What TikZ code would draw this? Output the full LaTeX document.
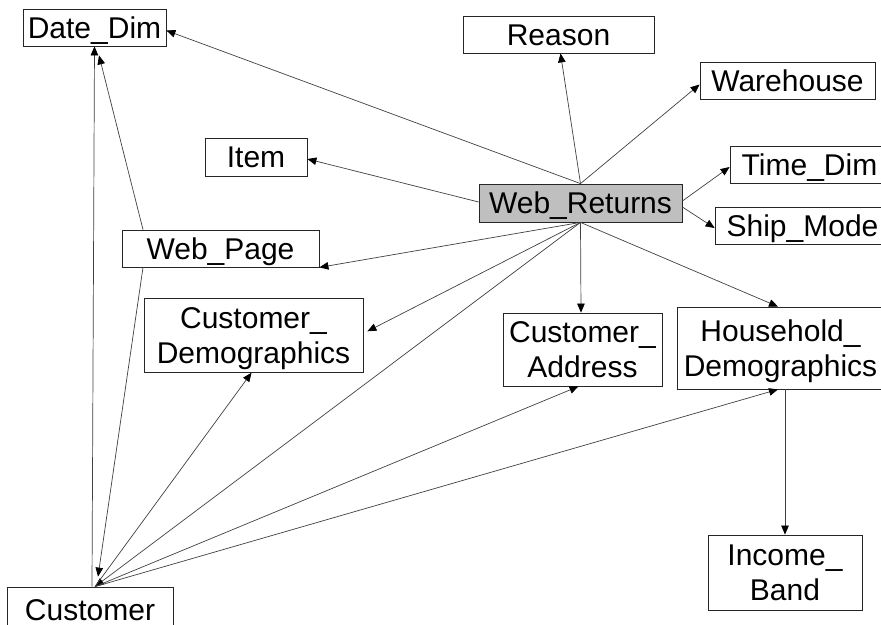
\documentclass[tikz,border=0pt]{standalone}
\usepackage{fontspec}
\setmainfont{Liberation Sans}
\usetikzlibrary{arrows.meta}
\begin{document}
\begin{tikzpicture}[x=1pt,y=-1pt,
  box/.style={draw=black!85, line width=0.8pt, inner sep=0pt, fill=white,
    font=\fontsize{30}{35}\selectfont, text height=21.4pt, text depth=0pt},
  box2/.style={box, text depth=35pt},
  link/.style={draw=black!75, line width=0.7pt, -{Triangle[length=9pt,width=7.5pt,color=black]}}
]
\useasboundingbox (0,0) rectangle (881,624);
\clip (0,0) rectangle (881,624);
% nodes
\node[box, minimum width=143pt, minimum height=37pt] (dd) at (94.5,27.5) {Date\_Dim};
\node[box, minimum width=191pt, minimum height=37pt] (reason) at (558.5,34.5) {Reason};
\node[box, minimum width=175pt, minimum height=37pt] (wh) at (787.5,80.5) {Warehouse};
\node[box, minimum width=102pt, minimum height=38pt] (item) at (256,157) {Item};
\node[box, fill=black!25, minimum width=203pt, minimum height=38pt] (wr) at (580.5,203) {Web\_Returns};
\node[box, minimum width=159pt, minimum height=37pt] (td) at (809.5,164.5) {Time\_Dim};
\node[box, minimum width=175pt, minimum height=37pt] (sm) at (802.5,225.5) {Ship\_Mode};
\node[box, minimum width=197pt, minimum height=37pt] (wp) at (220.5,248.5) {Web\_Page};
\node[box2, minimum width=219pt, minimum height=74pt] (cd) at (253.5,335.3) {\begin{tabular}[t]{@{}c@{}}Customer\_\\Demographics\end{tabular}};
\node[box2, minimum width=159pt, minimum height=73pt] (ca) at (582.5,349.5) {\begin{tabular}[t]{@{}c@{}}Customer\_\\Address\end{tabular}};
\node[box2, minimum width=207pt, minimum height=82pt] (hh) at (780.5,348) {\begin{tabular}[t]{@{}c@{}}Household\_\\Demographics\end{tabular}};
\node[box2, minimum width=154pt, minimum height=75pt] (ib) at (785,572.5) {\begin{tabular}[t]{@{}c@{}}Income\_\\Band\end{tabular}};
\node[box, minimum width=166pt, minimum height=45pt] (cust) at (90,609.5) {Customer};
% connectors
\draw[link] (wr.north) -- ([yshift=-3pt]dd.east);
\draw[link] (wr.north) -- ([xshift=2pt]reason.south);
\draw[link] (wr.north) -- ([yshift=-4pt]wh.west);
\draw[link] ([yshift=1pt]wr.west) -- ([yshift=-2pt]item.east);
\draw[link] ([yshift=2pt]wr.east) -- ([yshift=-2.5pt]td.west);
\draw[link] ([yshift=-4pt]wr.east) -- ([yshift=-2.5pt]sm.west);
\draw[link] (wr.south) -- (wp.south east);
\draw[link] (wr.south) -- ([xshift=4pt,yshift=4pt]cd.east);
\draw[link] (wr.south) -- ([xshift=5pt]cust.north);
\draw[link] (wr.south) -- ([xshift=-1.5pt]ca.north);
\draw[link] (wr.south) -- ([xshift=-2.5pt]hh.north);
\draw[link] ([xshift=4.5pt]hh.south) -- (ib.north);
\draw[link] ([xshift=2pt]cust.north) -- (dd.south);
\draw[link] ([xshift=-77.5pt]wp.north) -- ([xshift=4.5pt,yshift=-9pt]dd.south);
\draw[link] ([xshift=-77.5pt]wp.south) -- ([xshift=8pt,yshift=10pt]cust.north);
\draw[link] ([xshift=5pt]cust.north) -- ([xshift=-2pt]cd.south);
\draw[link] ([xshift=5pt]cust.north) -- ([xshift=-4pt]ca.south);
\draw[link] ([xshift=5pt]cust.north) -- ([xshift=-2.5pt]hh.south);
\end{tikzpicture}
\end{document}
